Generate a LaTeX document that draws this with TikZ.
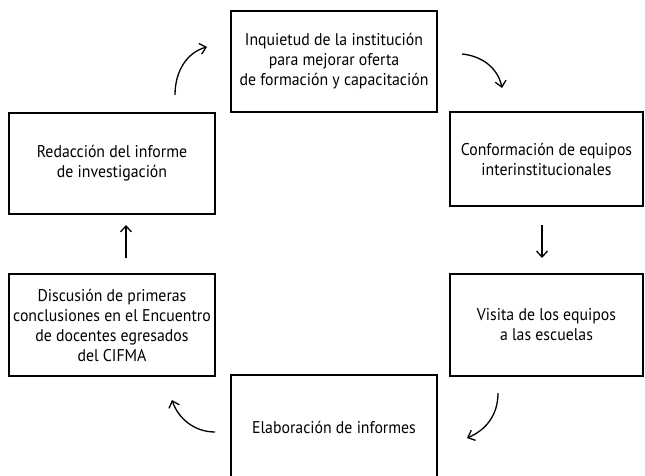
\documentclass[tikz,border=0pt]{standalone}
\usepackage{fontspec}
\setmainfont{PT Sans}[FakeStretch=0.93]
\usetikzlibrary{arrows.meta}
\begin{document}
\begin{tikzpicture}[x=1pt,y=-1pt,
  stagebox/.style={draw, line width=1.5pt, rectangle, inner sep=0pt, align=center,
    font=\fontsize{17}{20}\selectfont},
  flow/.style={line width=1.3pt, -{Straight Barb[length=6pt,width=11pt,line width=1.3pt]}}]
\clip (0,0) rectangle (645,476);
\fill[white] (0,0) rectangle (645,476);
\node[stagebox, minimum width=206pt, minimum height=101pt] (inq) at (334,61.5)
  {Inquietud de la institución\\para mejorar oferta\\de formación y capacitación};
\node[stagebox, minimum width=193pt, minimum height=94pt] (conf) at (546.5,159)
  {Conformación de equipos\\interinstitucionales};
\node[stagebox, minimum width=193pt, minimum height=102pt] (vis) at (546.5,325)
  {Visita de los equipos\\a las escuelas};
\node[stagebox, minimum width=206pt, minimum height=104pt] (elab) at (334,427)
  {Elaboración de informes};
\node[stagebox, minimum width=206pt, minimum height=102pt] (disc) at (112,325)
  {Discusión de primeras\\conclusiones en el Encuentro\\de docentes egresados\\del CIFMA};
\node[stagebox, minimum width=206pt, minimum height=101pt] (red) at (112,163.5)
  {Redacción del informe\\de investigación};
% arrow end points
\coordinate (a1s) at (175,95);  \coordinate (a1e) at (207,47);
\coordinate (a2s) at (462,54);  \coordinate (a2e) at (502,88);
\coordinate (a3s) at (542,225); \coordinate (a3e) at (542,258);
\coordinate (a4s) at (498,393); \coordinate (a4e) at (467,438);
\coordinate (a5s) at (215,432); \coordinate (a5e) at (172,400);
\coordinate (a6s) at (126,258); \coordinate (a6e) at (126,225);
\draw[flow] (a1s) .. controls (175,70) and (188,52) .. (a1e);
\draw[flow] (a2s) .. controls (482,56) and (498,68) .. (a2e);
\draw[flow] (a3s) -- (a3e);
\draw[flow] (a4s) .. controls (498,415) and (486,430) .. (a4e);
\draw[flow] (a5s) .. controls (194,432) and (178,418) .. (a5e);
\draw[flow] (a6s) -- (a6e);
\end{tikzpicture}
\end{document}
